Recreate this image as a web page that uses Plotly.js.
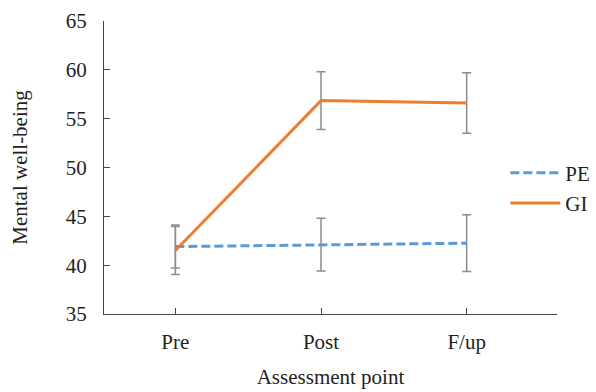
<!DOCTYPE html>
<html><head><meta charset="utf-8">
<script src="https://cdn.plot.ly/plotly-3.0.1.min.js"></script>
<style>html,body{margin:0;padding:0;background:#fff;}#chart{width:596px;height:392px;}</style>
</head><body><div id="chart"></div>
<script>
var categories = ["Pre", "Post", "F/up"];
var peValues = [41.9, 42.1, 42.25];
var peErrors = [2.2, 2.7, 2.9];
var giValues = [41.5, 56.85, 56.6];
var giErrors = [2.45, 2.95, 3.1];
var yTicks = [35, 40, 45, 50, 55, 60, 65];

var font = "Liberation Serif, Times New Roman, serif";
var txt = "#231f20";
var errStyle = {type: "data", visible: true, color: "#8c8c8c", thickness: 1.5, width: 4.5};

var traces = [
  {x: categories, y: peValues, name: "PE", type: "scatter", mode: "lines",
   line: {color: "#5B9BD5", width: 3, dash: "9px,4px"},
   error_y: Object.assign({array: peErrors}, errStyle)},
  {x: categories, y: giValues, name: "GI", type: "scatter", mode: "lines",
   line: {color: "#ED7D31", width: 3},
   error_y: Object.assign({array: giErrors}, errStyle)}
];

var layout = {
  width: 596, height: 392,
  margin: {l: 104, r: 39, t: 21, b: 78, autoexpand: false},
  paper_bgcolor: "#fff", plot_bgcolor: "#fff",
  font: {family: font, size: 21, color: txt},
  showlegend: true,
  legend: {x: 0.886, y: 0.43, xanchor: "left", yanchor: "middle", bgcolor: "rgba(0,0,0,0)",
           font: {family: font, size: 21, color: txt}, itemwidth: 50, tracegroupgap: 0},
  xaxis: {type: "category", range: [-0.49, 2.62], showgrid: false, zeroline: false,
          showline: true, linecolor: "#444", linewidth: 1,
          ticks: "inside", ticklen: 6, tickcolor: "#444", ticklabelstandoff: 9,
          title: {text: "Assessment point", font: {family: font, size: 21, color: txt}, standoff: 16}},
  yaxis: {range: [35, 65], tickvals: yTicks, showgrid: false, zeroline: false,
          showline: true, linecolor: "#444", linewidth: 1,
          ticks: "inside", ticklen: 6, tickcolor: "#444", ticklabelstandoff: 12,
          title: {text: "Mental well-being", font: {family: font, size: 21, color: txt}, standoff: 32}}
};

Plotly.newPlot("chart", traces, layout, {displayModeBar: false, staticPlot: true});
</script></body></html>
